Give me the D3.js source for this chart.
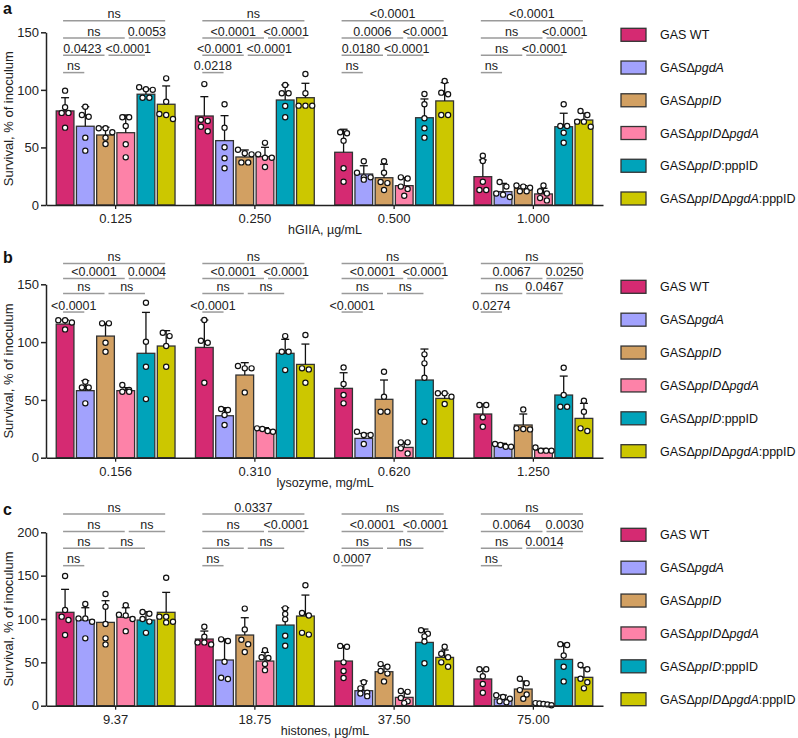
<!DOCTYPE html>
<html>
<head>
<meta charset="utf-8">
<script src="https://cdn.jsdelivr.net/npm/d3@7"></script>
<style>
  html, body { margin: 0; padding: 0; background: #fff; }
  svg { display: block; font-family: "Liberation Sans", Arial, sans-serif; }
</style>
</head>
<body>
<svg id="chart" width="798" height="738"></svg>
<script>
// ---------------- DATA ----------------
const strains = ["GAS WT", "GASΔpgdA", "GASΔppID", "GASΔppIDΔpgdA", "GASΔppID:pppID", "GASΔppIDΔpgdA:pppID"];
const colors = ["#D52A72", "#A2A2FD", "#D2A062", "#FD82A8", "#00A3BA", "#CCC700"];

const groupsA = ["0.125", "0.250", "0.500", "1.000"];
const groupsB = ["0.156", "0.310", "0.620", "1.250"];
const groupsC = ["9.37", "18.75", "37.50", "75.00"];

// bar means (per group, per strain)
const meansA = [
  [81.7, 68.4, 60.8, 62.8, 96.2, 87.5],
  [77.3, 55.9, 41.7, 42.0, 91.2, 93.2],
  [45.8, 26.9, 23.7, 16.8, 75.8, 90.4],
  [24.6, 11.6, 14.5, 9.6, 68.0, 73.8]
];
const sdA = [
  [11.5, 17.0, 6.7, 15.4, 4.6, 15.9],
  [16.8, 21.7, 6.1, 8.1, 13.1, 12.5],
  [20.0, 7.2, 11.7, 6.9, 16.3, 15.9],
  [14.5, 7.2, 2.3, 4.9, 11.7, 5.9]
];
const pointsA = [
  [[99.3, 84.9, 80, 80, 67.2], [85.4, 78.2, 76.7, 58.5, 47.2], [66.6, 66.6, 63.2, 58.5, 53], [76.2, 76.2, 68.6, 52.7, 41.4], [102.3, 100.5, 100, 93.2, 93.2], [110, 89.7, 79, 78.2, 74.7]],
  [[105, 74, 73, 68, 64], [87.5, 67.2, 50.1, 40.6, 31.9], [48, 45, 44, 37, 37], [54, 44, 41, 41, 33], [104.3, 97, 97, 86, 76.2], [113.8, 97, 86.3, 86.3, 86.3]],
  [[63.2, 62.3, 55.9, 31.9, 20.2], [38, 28, 24, 24, 22], [38, 28, 20, 19, 13], [24, 23, 16, 14, 8], [96.4, 87.5, 75.3, 66.6, 58.5], [107.7, 97.6, 96.2, 78.2, 78.2]],
  [[42.8, 38.2, 20.2, 13, 13], [20, 16, 10, 9, 7], [17, 16, 15, 12, 12], [17, 12, 10, 6, 4], [87.5, 68.6, 68.6, 62.8, 54.1], [81.7, 78.2, 72.4, 72.4, 68]]
];

const meansB = [
  [115.6, 58.0, 105.2, 58.0, 90.3, 96.6],
  [95.4, 36.3, 71.5, 23.9, 90.3, 80.7],
  [60.0, 16.7, 50.5, 8.9, 67.2, 51.3],
  [37.8, 10.1, 28.3, 6.6, 54.2, 34.0]
];
const sdB = [
  [3.5, 8.6, 11.0, 2.6, 35.4, 13.3],
  [23.7, 7.0, 10.7, 2.1, 12.1, 17.6],
  [13.5, 4.3, 16.7, 4.4, 26.8, 4.4],
  [8.6, 2.3, 9.5, 1.4, 16.4, 13.0]
];
const pointsB = [
  [[119, 119, 117, 111], [65.7, 60.8, 60.8, 47], [116.2, 116.2, 99.5, 91.7], [62.9, 58.5, 57.1, 57.1], [134.1, 100.3, 78.7, 50.7], [108.1, 105.2, 96.6, 78.7]],
  [[119.1, 101.2, 99.5, 64.9], [42.1, 41.2, 36.9, 28.3], [79.3, 77.3, 77.3, 56.5], [25.4, 24.8, 23.1, 22.5], [105.2, 91.7, 91.7, 75.8], [106.1, 77.3, 76.4, 64.9]],
  [[78.1, 63.7, 54.2, 47], [22.5, 19.6, 19.6, 11.8], [74.4, 52.8, 39.8, 39.8], [13.3, 13.3, 8.1, 3.7], [89.4, 81.6, 69.2, 31.1], [55.7, 55.7, 52.8, 46.4]],
  [[45.6, 45.6, 34.9, 26.8], [11.8, 11, 9.5, 9.5], [41.8, 25.4, 24.8, 24.5], [8.9, 6.1, 6.1, 6.1], [77.8, 54.2, 44.1, 44.1], [49.3, 39.8, 25.4, 23.1]]
];

const meansC = [
  [107.7, 98.8, 96.1, 101.9, 98.8, 107.7],
  [76.9, 52.7, 81.5, 51.5, 93.0, 103.4],
  [51.5, 17.3, 39.2, 9.6, 73.0, 55.7],
  [30.8, 7.7, 19.2, 1.9, 53.4, 32.7]
];
const sdC = [
  [26.5, 14.2, 25.0, 11.1, 9.6, 23.0],
  [9.2, 24.2, 20.0, 10.0, 20.0, 24.2],
  [17.7, 11.2, 6.9, 6.5, 15.4, 8.5],
  [11.5, 4.5, 9.3, 1.0, 18.5, 11.1]
];
const pointsC = [
  [[149.6, 110.3, 102.7, 98.8, 81.5], [117.3, 100.7, 100.7, 96.9, 77.7], [128.8, 114.2, 94.2, 77.7, 70.7], [116, 105, 104, 100, 86], [108, 106, 100, 97, 84], [147.6, 102.7, 102.7, 96.9, 96.1]],
  [[91.1, 79.6, 73, 73, 70.7], [76.5, 74.6, 50.7, 32.3, 30.8], [112, 88, 76, 71, 62], [64, 56, 55, 48, 41], [112.3, 105.7, 99.6, 80.7, 69.2], [139, 107, 104, 84, 82]],
  [[69, 68, 50, 40, 32], [27, 20, 15, 14, 11], [48, 45, 40, 37, 28], [17, 16, 9, 5, 3], [87, 83, 80, 74, 49], [68, 60, 56, 50, 45]],
  [[42, 42, 34, 25, 15], [12, 10, 8, 5, 4], [31, 26, 18, 13, 8], [3, 2.5, 2, 1.5, 0.5], [71, 70, 58, 45, 28], [47, 42, 31, 27, 20]]
];

// statistical comparisons (strain index pairs) and their bracket row (0 = top)
const comparisons = [[0, 1], [0, 2], [2, 4], [0, 3], [3, 5], [0, 5]];
const comparisonRow = [3, 2, 2, 1, 1, 0];

// p-value labels per group, in the order of `comparisons`
const sigA = [
  ["ns", "0.0423", "<0.0001", "ns", "0.0053", "ns"],
  ["0.0218", "<0.0001", "<0.0001", "<0.0001", "<0.0001", "ns"],
  ["ns", "0.0180", "<0.0001", "0.0006", "<0.0001", "<0.0001"],
  ["ns", "ns", "<0.0001", "ns", "<0.0001", "<0.0001"]
];
const sigB = [
  ["<0.0001", "ns", "ns", "<0.0001", "0.0004", "ns"],
  ["<0.0001", "ns", "ns", "<0.0001", "<0.0001", "ns"],
  ["<0.0001", "ns", "ns", "<0.0001", "<0.0001", "ns"],
  ["0.0274", "ns", "0.0467", "0.0067", "0.0250", "ns"]
];
const sigC = [
  ["ns", "ns", "ns", "ns", "ns", "ns"],
  ["ns", "ns", "ns", "ns", "<0.0001", "0.0337"],
  ["0.0007", "ns", "ns", "<0.0001", "<0.0001", "ns"],
  ["ns", "ns", "0.0014", "0.0064", "0.0030", "ns"]
];

const yTicksAB = [0, 50, 100, 150];
const yTicksC = [0, 50, 100, 150, 200];

// ---------------- LAYOUT ----------------
const panels = [
  { letter: "a", groups: groupsA, means: meansA, sds: sdA, points: pointsA, sig: sigA, xTitle: "hGIIA, µg/mL", yMax: 150, yTicks: yTicksAB,
    top: 32.3, bottom: 205, rows: [160, 145, 130, 115], letterY: 14 },
  { letter: "b", groups: groupsB, means: meansB, sds: sdB, points: pointsB, sig: sigB, xTitle: "lysozyme, mg/mL", yMax: 150, yTicks: yTicksAB,
    top: 284.3, bottom: 457.7, rows: [168, 155, 142, 126], letterY: 263 },
  { letter: "c", groups: groupsC, means: meansC, sds: sdC, points: pointsC, sig: sigC, xTitle: "histones, µg/mL", yMax: 200, yTicks: yTicksC,
    top: 532.3, bottom: 705.7, rows: [221, 201, 181.5, 161.5], letterY: 515 }
];

const X0 = 46, X1 = 603;
const svg = d3.select("#chart");
const FONT = "'Liberation Sans', Arial, sans-serif";

function addStrainText(sel, name) {
  // italicize gene names that follow Δ; text after ':' is upright
  const parts = name.split(/(Δ|:)/);
  let italic = false;
  parts.forEach(p => {
    if (p === "") return;
    if (p === "Δ") { sel.append("tspan").text("Δ").attr("font-style", "normal"); italic = true; return; }
    if (p === ":") { sel.append("tspan").text(":").attr("font-style", "normal"); italic = false; return; }
    sel.append("tspan").text(p).attr("font-style", italic ? "italic" : "normal");
  });
}

function swarmOffsets(vals, y, dmin, step, maxOff) {
  const pts = vals.map((v, i) => ({ v, i, py: y(v), off: 0 })).sort((a, b) => a.py - b.py);
  const clusters = [];
  pts.forEach(p => {
    const c = clusters[clusters.length - 1];
    if (c && p.py - c[0].py < dmin) c.push(p); else clusters.push([p]);
  });
  clusters.forEach(c => {
    const k = c.length;
    if (k === 1) return;
    const s = Math.min(step, (2 * maxOff) / (k - 1));
    c.forEach((p, j) => { p.off = (j - (k - 1) / 2) * s; });
  });
  return pts;
}

panels.forEach(P => {
  const g = svg.append("g");
  const y = d3.scaleLinear().domain([0, P.yMax]).range([P.bottom, P.top]);
  const xg = d3.scaleBand().domain(d3.range(P.groups.length)).range([X0, X1]);
  const xb = d3.scaleBand().domain(d3.range(strains.length)).range([-59.4, 59.4]).paddingInner(0.124).paddingOuter(0);
  const bw = xb.bandwidth();
  const cx = (gi, si) => xg(gi) + xg.bandwidth() / 2 + xb(si) + bw / 2;

  // bars
  P.means.forEach((row, gi) => {
    row.forEach((m, si) => {
      g.append("rect")
        .attr("x", cx(gi, si) - bw / 2).attr("y", y(m))
        .attr("width", bw).attr("height", y(0) - y(m))
        .attr("fill", colors[si]).attr("stroke", "#333").attr("stroke-width", 1.3);
    });
  });
  // error bars (upper only)
  P.means.forEach((row, gi) => {
    row.forEach((m, si) => {
      const x = cx(gi, si), yt = y(m + P.sds[gi][si]);
      g.append("line").attr("x1", x).attr("x2", x).attr("y1", y(m)).attr("y2", yt)
        .attr("stroke", "#111").attr("stroke-width", 1.3);
      g.append("line").attr("x1", x - 4).attr("x2", x + 4).attr("y1", yt).attr("y2", yt)
        .attr("stroke", "#111").attr("stroke-width", 1.3);
    });
  });
  // points
  P.points.forEach((grp, gi) => {
    grp.forEach((vals, si) => {
      const pts = swarmOffsets(vals, y, 5.2, 6.8, 8);
      pts.forEach(p => {
        g.append("circle").attr("cx", cx(gi, si) + p.off).attr("cy", p.py).attr("r", 2.6)
          .attr("fill", "#fff").attr("stroke", "#111").attr("stroke-width", 1.2);
      });
    });
  });

  // axes
  const yAxis = d3.axisLeft(y).tickValues(P.yTicks).tickSize(5).tickSizeOuter(0).tickPadding(2);
  const ya = g.append("g").attr("transform", `translate(${X0},0)`).call(yAxis);
  ya.select(".domain").attr("stroke", "#222").attr("stroke-width", 1.5);
  ya.selectAll(".tick line").attr("stroke", "#222").attr("stroke-width", 1.5);
  ya.selectAll(".tick text").attr("font-family", FONT).attr("font-size", 13).attr("fill", "#222");

  const xAxis = d3.axisBottom(xg).tickFormat(i => P.groups[i]).tickSize(4).tickSizeOuter(0);
  const xa = g.append("g").attr("transform", `translate(0,${P.bottom})`).call(xAxis);
  xa.select(".domain").attr("stroke", "#222").attr("stroke-width", 1.5);
  xa.selectAll(".tick line").attr("stroke", "#222").attr("stroke-width", 1.3);
  xa.selectAll(".tick text").attr("font-family", FONT).attr("font-size", 13).attr("fill", "#222").attr("y", 9);

  g.append("text").attr("x", 325).attr("y", P.bottom + 29).attr("text-anchor", "middle")
    .attr("font-family", FONT).attr("font-size", 12.5).attr("fill", "#222").text(P.xTitle);

  g.append("text").attr("transform", `translate(13,${(P.top + P.bottom) / 2}) rotate(-90)`)
    .attr("text-anchor", "middle").attr("font-family", FONT).attr("font-size", 13).attr("fill", "#222")
    .text("Survival, % of inoculum");

  g.append("text").attr("x", 3).attr("y", P.letterY).attr("font-family", FONT).attr("font-weight", "bold")
    .attr("font-size", 16).attr("fill", "#111").text(P.letter);

  // significance brackets
  P.sig.forEach((labels, gi) => {
    const rowLabels = {};
    comparisons.forEach(([a, b], ci) => {
      const r = comparisonRow[ci];
      const ly = y(P.rows[r]);
      const x1 = cx(gi, a) + (a === 0 ? -2 : 3);
      const x2 = cx(gi, b) - 1;
      g.append("line").attr("x1", x1).attr("x2", x2).attr("y1", ly).attr("y2", ly)
        .attr("stroke", "#9a9a9a").attr("stroke-width", 1.5);
      const t = g.append("text").attr("x", (x1 + x2) / 2).attr("y", ly - 2.5).attr("text-anchor", "middle")
        .attr("font-family", FONT).attr("font-size", 12.5).attr("fill", "#222").text(labels[ci]);
      (rowLabels[r] = rowLabels[r] || []).push({ t, cx: (x1 + x2) / 2, w: t.node().getComputedTextLength() });
    });
    // push apart labels that overlap within a row
    Object.values(rowLabels).forEach(list => {
      list.sort((p, q) => p.cx - q.cx);
      for (let k = 1; k < list.length; k++) {
        const L = list[k - 1], R = list[k];
        const ov = (L.cx + L.w / 2 + 4) - (R.cx - R.w / 2);
        if (ov > 0) { L.cx -= ov / 2; R.cx += ov / 2; }
      }
      list.forEach(o => o.t.attr("x", o.cx));
    });
  });

  // legend
  const rowStep = (P.bottom - P.top - 9) / (strains.length - 1);
  strains.forEach((s, si) => {
    const ry = P.top + 2.5 + si * rowStep;
    g.append("rect").attr("x", 621).attr("y", ry - 6.5).attr("width", 25).attr("height", 13)
      .attr("fill", colors[si]).attr("stroke", "#333").attr("stroke-width", 1.3);
    const t = g.append("text").attr("x", 660).attr("y", ry + 4.5)
      .attr("font-family", FONT).attr("font-size", 12.5).attr("fill", "#111");
    addStrainText(t, s);
  });
});
</script>
</body>
</html>
